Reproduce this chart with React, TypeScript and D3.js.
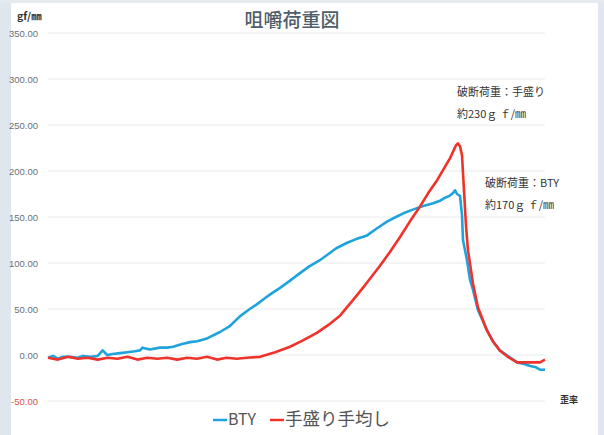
import React from "react";
import * as d3 from "d3";

const yTicks = [350, 300, 250, 200, 150, 100, 50, 0, -50];

const btyStrain = [0, 1, 2, 3, 4.4, 6, 7, 8.5, 10, 11, 11.9, 13, 14.5, 16, 17.5, 18.5, 19, 20.5, 22.5, 24, 25.2, 27, 28.6, 30, 32, 33.5, 34.6, 36.5, 38.6, 40.6, 42, 43.7, 45, 46.7, 48.5, 50.7, 52.5, 54.7, 56.5, 58, 60.2, 62, 64.2, 66, 68.2, 70, 71.5, 73.4, 75.5, 77.5, 79, 79.9, 80.8, 81.5, 81.9, 82.3, 82.9, 83.3, 83.5, 84.3, 84.9, 85.5, 86.5, 87.5, 88.3, 89.5, 90.9, 92.5, 94.4, 96, 97, 98, 99, 100];
const btyLoad = [-3, -1, -4, -2, -2, -3, -1, -2, -1, 5, 0, 1, 2, 3, 4, 5, 8, 6, 8, 8, 9, 12, 14, 15, 18, 22, 25, 31, 42, 50, 55, 62, 67, 73, 80, 89, 96, 103, 110, 116, 122, 126, 130, 137, 145, 150, 154, 158, 162, 165, 168, 171, 173, 176, 179, 175, 173, 152, 125, 103, 82, 71, 49, 37, 27, 15, 5, -1, -8, -10, -12, -13, -16, -16];

const handStrain = [0, 2, 4, 6, 8, 10, 12, 14, 16, 18, 20, 22, 24, 26, 28, 30, 32, 34, 36, 38, 40, 42.7, 45.7, 48.7, 51, 54.1, 56.5, 58.8, 61.4, 63.8, 66.8, 68.8, 70.8, 72.8, 74.8, 76.5, 78.3, 80.9, 82.1, 82.5, 82.9, 83.3, 83.7, 84.1, 84.5, 85.5, 86.5, 88.3, 89.5, 90.9, 92.5, 94.4, 97, 99, 100];
const handLoad = [-3, -5, -2, -4, -3, -5, -3, -4, -2, -5, -3, -4, -3, -5, -3, -4, -2, -5, -3, -4, -3, -2, 3, 9, 15, 24, 33, 43, 60, 76, 97, 112, 128, 145, 161, 176, 190, 214, 228, 230, 227, 217, 179, 141, 114, 78, 52, 27, 15, 5, -2, -8, -8, -8, -5];

const seriesNames = ["BTY", "手盛り手均し"];
const seriesColors = ["#1fa3dc", "#f0322a"];

export default function App() {
  const W = 604, H = 435;
  const x = d3.scaleLinear().domain([0, 100]).range([48, 545]);
  const y = d3.scaleLinear().domain([-50, 350]).range([401, 33]);
  const line = d3.line<[number, number]>().x(d => x(d[0])).y(d => y(d[1]));
  const blue = btyStrain.map((s, i) => [s, btyLoad[i]] as [number, number]);
  const red = handStrain.map((s, i) => [s, handLoad[i]] as [number, number]);
  const cjk = "'Noto Sans CJK JP', sans-serif";
  return (
    <svg width={W} height={H} style={{ position: "absolute", left: 0, top: 0, background: "#fff" }}>
      <rect x={0} y={0} width={11} height={H} fill="#dfe6ee" />
      <rect x={598} y={0} width={6} height={H} fill="#dfe6ee" />
      <rect x={0} y={0} width={W} height={3} fill="#e4eaf0" />
      <text x={292} y={27} textAnchor="middle" fontFamily={cjk} fontSize={19} fill="#4f5f6a" fontWeight={500}>咀嚼荷重図</text>
      <text x={17} y={20} fontFamily={cjk} fontSize={10.5} fontWeight={700} fill="#333">gf/㎜</text>
      {yTicks.map(t => (
        <g key={t}>
          <line x1={48} x2={545} y1={y(t)} y2={y(t)} stroke="#e6eaee" strokeWidth={1} />
          <text x={38} y={y(t) + 3.5} textAnchor="end" fontFamily="'Liberation Sans', sans-serif" fontSize={9.5} fill={t < 0 ? "#e0524a" : "#6a6f75"}>{t.toFixed(2)}</text>
        </g>
      ))}
      <path d={line(blue) || ""} fill="none" stroke={seriesColors[0]} strokeWidth={2.6} strokeLinejoin="round" />
      <path d={line(red) || ""} fill="none" stroke={seriesColors[1]} strokeWidth={2.6} strokeLinejoin="round" />
      <g fontFamily={cjk} fontSize={11} fill="#333">
        <text x={457} y={96}>破断荷重：手盛り</text>
        <text x={457} y={118}>約230ｇ ｆ/㎜</text>
        <text x={485} y={187}>破断荷重：BTY</text>
        <text x={485} y={209}>約170ｇ ｆ/㎜</text>
      </g>
      <text x={560} y={403} fontFamily={cjk} fontSize={9} fontWeight={700} fill="#333">歪率</text>
      <line x1={213} x2={227} y1={420} y2={420} stroke={seriesColors[0]} strokeWidth={2.5} />
      <text x={228} y={425} fontFamily={cjk} fontSize={16} fill="#555">{seriesNames[0]}</text>
      <line x1={270} x2={284} y1={420} y2={420} stroke={seriesColors[1]} strokeWidth={2.5} />
      <text x={285} y={425} fontFamily={cjk} fontSize={17.5} fill="#555">{seriesNames[1]}</text>
    </svg>
  );
}
